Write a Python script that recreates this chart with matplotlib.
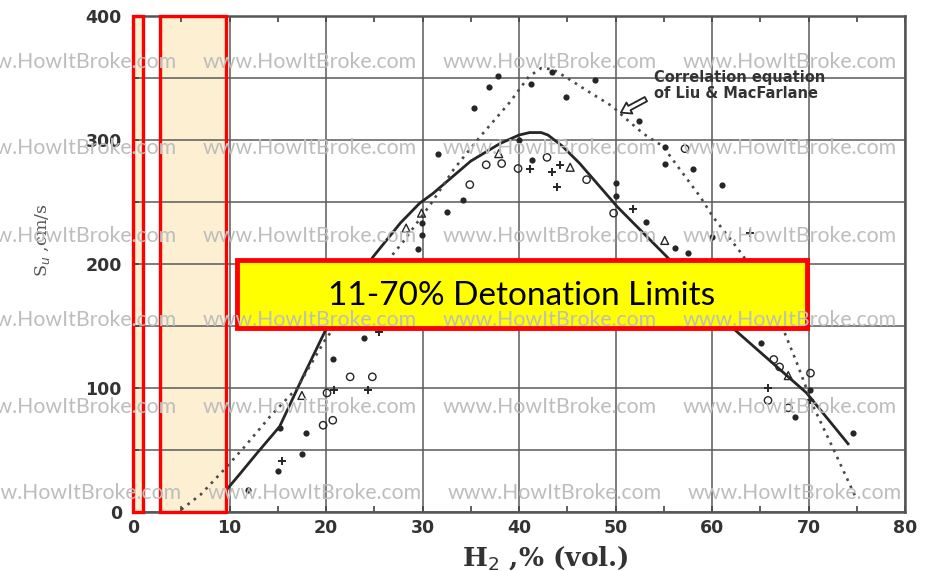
import matplotlib
matplotlib.use("Agg")
import matplotlib.pyplot as plt
from matplotlib.patches import Rectangle, FancyArrowPatch
from matplotlib.ticker import MultipleLocator

# Burning velocity of hydrogen-air mixtures
solid_x = [9.7, 11.0, 12.8, 15.2, 17.3, 20.1, 22.5, 24.9, 27.7, 29.7, 31.1, 35.0, 38.0,
           40.0, 41.1, 42.3, 43.0, 44.5, 46.3, 50.2, 55.3, 62.2, 69.8, 74.1]
solid_y = [18, 30, 47, 69, 104, 149, 180, 206, 233, 249, 257, 283, 297,
           304, 306, 306, 304, 295, 281, 246, 206, 148, 96, 55]

# Correlation equation of Liu & MacFarlane
corr_x = [5.0, 7.0, 9.3, 11.6, 14.2, 17.0, 20.0, 24.0, 28.0, 31.0, 33.2, 36.0, 39.0, 41.0,
          42.3, 43.5, 45.0, 47.0, 49.7, 50.8, 52.9, 54.9, 56.7, 58.8, 60.1, 62.2, 63.2,
          65.5, 67.4, 68.8, 70.5, 72.5, 75.0]
corr_y = [2, 14, 33, 53, 77, 100, 140, 180, 218, 250, 276, 303, 330, 351,
          358, 357, 350, 340, 327, 319, 305, 295, 276, 254, 238, 217, 207,
          175, 147, 120, 85, 52, 10]

# Experimental data points
dots_x = [37.8, 36.9, 35.3, 43.4, 41.2, 47.9, 44.9, 31.6, 40.0, 41.3, 50.0, 50.1, 52.4,
          55.1, 55.1, 58.0, 61.0, 60.0, 53.2, 57.5, 56.2, 34.2, 32.5, 29.9, 29.9, 29.5,
          20.7, 23.9, 15.2, 17.5, 15.0, 11.9, 65.1, 70.2, 68.6, 74.6, 17.9]
dots_y = [352, 343, 326, 355, 345, 348, 335, 289, 300, 284, 265, 255, 315,
          294, 281, 277, 264, 222, 234, 209, 213, 252, 242, 233, 223, 212,
          123, 140, 68, 47, 33, 18, 136, 98, 77, 64, 64]

circ_x = [36.6, 38.2, 42.9, 39.9, 34.9, 47.0, 49.8, 57.2, 22.5, 24.8, 20.1, 19.7, 20.7,
          66.4, 67.0, 70.2, 65.8, 67.9]
circ_y = [280, 281, 286, 277, 264, 268, 241, 293, 109, 109, 96, 70, 74,
          123, 117, 112, 90, 84]

plus_x = [41.1, 43.4, 44.2, 43.9, 51.8, 63.9, 25.5, 20.8, 24.4, 15.4, 65.8, 70.2]
plus_y = [277, 274, 280, 262, 244, 225, 145, 98, 98, 41, 100, 90]

tri_x = [37.9, 45.3, 29.9, 28.3, 55.1, 67.9, 17.5]
tri_y = [289, 278, 241, 229, 219, 110, 94]

x_ticks = [0, 10, 20, 30, 40, 50, 60, 70, 80]
y_ticks = [0, 100, 200, 300, 400]
y_grid = [0, 50, 100, 150, 200, 250, 300, 350, 400]

# Highlighted ranges and limits box
band_a = (0.0, 1.05)
band_b = (2.8, 9.6)
box_x = (10.8, 69.8)
box_y = (148, 203)
box_label = "11-70% Detonation Limits"

ink = "#262626"

fig = plt.figure(figsize=(9.4, 5.71), dpi=100)
ax = fig.add_axes([0.1415, 0.1033, 0.8213, 0.8687])
ax.set_xlim(0, 80)
ax.set_ylim(0, 400)

ax.xaxis.set_minor_locator(MultipleLocator(5))
ax.set_xticks(x_ticks)
ax.set_xticklabels([str(v) for v in x_ticks])
ax.set_yticks(y_grid)
ax.set_yticklabels([str(v) if v in y_ticks else "" for v in y_grid])
ax.grid(True, which="major", color="#5a5a5a", lw=1.1, zorder=1)
ax.tick_params(which="both", direction="in", top=True, right=False, color="#444444",
               labelcolor="#333333")
ax.tick_params(axis="x", which="major", length=4, width=1.2, pad=5)
ax.tick_params(axis="y", which="major", length=4, width=1.2, pad=8)
ax.tick_params(which="minor", length=4, width=1.2)
for lbl in ax.get_xticklabels() + ax.get_yticklabels():
    lbl.set_fontweight("heavy")
    lbl.set_fontsize(12.5)
for s in ax.spines.values():
    s.set_color("#555555")
    s.set_linewidth(1.8)

# shaded ranges
for lo, hi in (band_a, band_b):
    ax.add_patch(Rectangle((lo, 0), hi - lo, 400, facecolor="#FCEFD2", edgecolor="none", zorder=0.5))
    ax.add_patch(Rectangle((lo, 0), hi - lo, 400, facecolor="none", edgecolor="#FF0000",
                           lw=2.4, zorder=6, clip_on=False))

ax.plot(solid_x, solid_y, color=ink, lw=2.0, zorder=4)
ax.plot(corr_x, corr_y, color="#4a4a4a", lw=1.9, ls=(0, (1, 2.0)), zorder=4)

ax.scatter(dots_x, dots_y, s=20, color=ink, zorder=5, linewidths=0)
ax.scatter(circ_x, circ_y, s=28, facecolors="none", edgecolors=ink, linewidths=1.0, zorder=5)
ax.scatter(plus_x, plus_y, s=36, marker="+", color=ink, linewidths=1.4, zorder=5)
ax.scatter(tri_x, tri_y, s=32, marker="^", facecolors="none", edgecolors=ink, linewidths=1.0, zorder=5)

# correlation label with hollow arrow
ax.text(54.0, 344, "Correlation equation\nof Liu & MacFarlane", fontsize=10.5, fontweight="bold",
        color="#333333", va="center", ha="left", linespacing=1.1, zorder=6)
ax.add_patch(FancyArrowPatch((53.4, 334), (50.3, 321),
                             arrowstyle="simple,head_width=9,head_length=7,tail_width=3.5",
                             facecolor="white", edgecolor=ink, lw=1.3, zorder=6))

# detonation limits box
ax.add_patch(Rectangle((box_x[0], box_y[0]), box_x[1] - box_x[0], box_y[1] - box_y[0],
                       facecolor="#FFFF00", edgecolor="#FF0000", lw=3.5, zorder=7))
ax.text((box_x[0] + box_x[1]) / 2, (box_y[0] + box_y[1]) / 2 - 1, box_label, fontsize=24,
        family="Lato", color="black", ha="center", va="center", zorder=8)

fig.text(545 / 940, 1 - 566 / 571, "H$_2$ ,% (vol.)", fontsize=19, fontweight="bold",
         family="DejaVu Serif", color="#333333", ha="center", va="baseline")
fig.text(42 / 940, 1 - 240 / 571, "S$_u$ ,cm/s", fontsize=12.5, family="DejaVu Serif",
         color="#555555", rotation=90, ha="center", va="center")

# watermark rows
rows = [62, 148, 236, 320, 407, 493]
for i, yp in enumerate(rows):
    shift = 5 if i == 5 else 0
    for xp in (-37, 203, 443, 683):
        fig.text((xp + shift) / 940, 1 - yp / 571, "www.HowItBroke.com", fontsize=15.3,
                 family="Lato", color="#BDBDBD", ha="left", va="center", zorder=20)

fig.savefig("out.png", dpi=100)
